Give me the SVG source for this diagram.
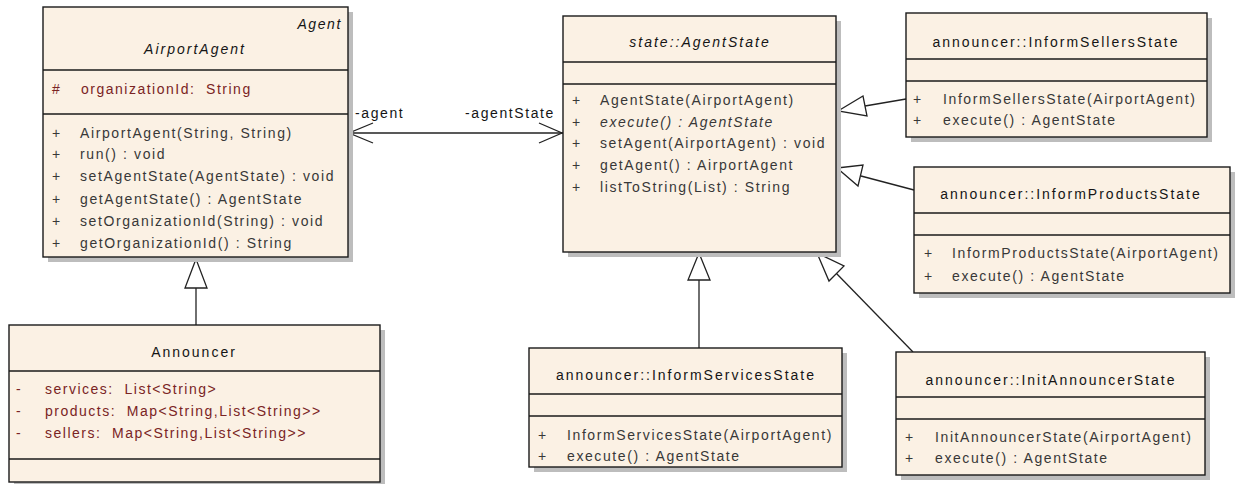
<svg xmlns="http://www.w3.org/2000/svg" width="1235" height="484" viewBox="0 0 1235 484">
<style>
.shadow{fill:#bdbdbd}
.box{fill:#fbf1e4;stroke:#1a1a1a;stroke-width:1.4}
.div{stroke:#1a1a1a;stroke-width:1.4}
text{font-family:"Liberation Sans",Arial,sans-serif;font-size:14px;white-space:pre}
.title{fill:#151515;letter-spacing:2px;text-anchor:middle}
.it{font-style:italic}
.attr{fill:#7a2424;letter-spacing:1.5px}
.meth{fill:#383838;letter-spacing:1.6px}
.vis{fill:#383838}
.avis{fill:#7a2424}
.lbl{fill:#151515;letter-spacing:1.6px}
.line{stroke:#222;stroke-width:1.3;fill:none}
.tri{stroke:#222;stroke-width:1.3;fill:#ffffff}
</style>
<rect width="1235" height="484" fill="#ffffff"/>

<g id="connectors">
  <line class="line" x1="348" y1="133" x2="563" y2="133"/>
  <polyline class="line" points="373,123 349,133 373,143"/>
  <polyline class="line" points="539,123 562,133 539,143"/>
  <text class="lbl" x="355" y="118">-agent</text>
  <text class="lbl" x="555" y="118" text-anchor="end">-agentState</text>

  <line class="line" x1="196" y1="288" x2="196" y2="325"/>
  <polygon class="tri" points="196,259 185,288 207,288"/>

  <line class="line" x1="699" y1="280" x2="699" y2="348"/>
  <polygon class="tri" points="699,253 688,280 710,280"/>

  <line class="line" x1="865" y1="106" x2="906" y2="99"/>
  <polygon class="tri" points="838,111 863,96 867,116"/>

  <line class="line" x1="861" y1="176" x2="914" y2="190"/>
  <polygon class="tri" points="837,168 863,165 858,186"/>

  <line class="line" x1="836" y1="273" x2="913" y2="352"/>
  <polygon class="tri" points="817,253 844,266 829,281"/>
</g>

<g id="AirportAgent">
  <rect class="shadow" x="48" y="12" width="305" height="250"/>
  <rect class="box" x="43" y="7" width="305" height="250"/>
  <line class="div" x1="43" y1="70" x2="348" y2="70"/>
  <line class="div" x1="43" y1="114" x2="348" y2="114"/>
  <text class="lbl it" x="342" y="29" text-anchor="end">Agent</text>
  <text class="title it" x="195" y="54">AirportAgent</text>
  <text class="avis" x="52" y="94">#</text>
  <text class="attr" x="81" y="94">organizationId:  String</text>
  <text class="vis" x="52" y="138">+</text><text class="meth" x="80" y="138">AirportAgent(String, String)</text>
  <text class="vis" x="52" y="159">+</text><text class="meth" x="80" y="159">run() : void</text>
  <text class="vis" x="52" y="181">+</text><text class="meth" x="80" y="181">setAgentState(AgentState) : void</text>
  <text class="vis" x="52" y="204">+</text><text class="meth" x="80" y="204">getAgentState() : AgentState</text>
  <text class="vis" x="52" y="226">+</text><text class="meth" x="80" y="226">setOrganizationId(String) : void</text>
  <text class="vis" x="52" y="248">+</text><text class="meth" x="80" y="248">getOrganizationId() : String</text>
</g>

<g id="Announcer">
  <rect class="shadow" x="14" y="330" width="371" height="157"/>
  <rect class="box" x="9" y="325" width="371" height="157"/>
  <line class="div" x1="9" y1="371" x2="380" y2="371"/>
  <line class="div" x1="9" y1="459" x2="380" y2="459"/>
  <text class="title" x="194" y="357">Announcer</text>
  <text class="avis" x="16" y="394">-</text><text class="attr" x="45" y="394">services:  List&lt;String&gt;</text>
  <text class="avis" x="16" y="416">-</text><text class="attr" x="45" y="416">products:  Map&lt;String,List&lt;String&gt;&gt;</text>
  <text class="avis" x="16" y="438">-</text><text class="attr" x="45" y="438">sellers:  Map&lt;String,List&lt;String&gt;&gt;</text>
</g>

<g id="AgentState">
  <rect class="shadow" x="568" y="21" width="273" height="236"/>
  <rect class="box" x="563" y="16" width="273" height="236"/>
  <line class="div" x1="563" y1="62" x2="836" y2="62"/>
  <line class="div" x1="563" y1="84" x2="836" y2="84"/>
  <text class="title it" x="700" y="47">state::AgentState</text>
  <text class="vis" x="572" y="105">+</text><text class="meth" x="600" y="105">AgentState(AirportAgent)</text>
  <text class="vis" x="572" y="127">+</text><text class="meth it" x="600" y="127">execute() : AgentState</text>
  <text class="vis" x="572" y="148">+</text><text class="meth" x="600" y="148">setAgent(AirportAgent) : void</text>
  <text class="vis" x="572" y="170">+</text><text class="meth" x="600" y="170">getAgent() : AirportAgent</text>
  <text class="vis" x="572" y="192">+</text><text class="meth" x="600" y="192">listToString(List) : String</text>
</g>

<g id="InformSellersState">
  <rect class="shadow" x="911" y="18" width="301" height="124"/>
  <rect class="box" x="906" y="13" width="301" height="124"/>
  <line class="div" x1="906" y1="59" x2="1207" y2="59"/>
  <line class="div" x1="906" y1="81" x2="1207" y2="81"/>
  <text class="title" x="1056" y="47">announcer::InformSellersState</text>
  <text class="vis" x="913" y="104">+</text><text class="meth" x="943" y="104">InformSellersState(AirportAgent)</text>
  <text class="vis" x="913" y="125">+</text><text class="meth" x="943" y="125">execute() : AgentState</text>
</g>

<g id="InformProductsState">
  <rect class="shadow" x="919" y="172" width="316" height="126"/>
  <rect class="box" x="914" y="167" width="316" height="126"/>
  <line class="div" x1="914" y1="213" x2="1230" y2="213"/>
  <line class="div" x1="914" y1="235" x2="1230" y2="235"/>
  <text class="title" x="1071" y="199">announcer::InformProductsState</text>
  <text class="vis" x="924" y="258">+</text><text class="meth" x="952" y="258">InformProductsState(AirportAgent)</text>
  <text class="vis" x="924" y="281">+</text><text class="meth" x="952" y="281">execute() : AgentState</text>
</g>

<g id="InformServicesState">
  <rect class="shadow" x="534" y="353" width="313" height="119"/>
  <rect class="box" x="529" y="348" width="313" height="119"/>
  <line class="div" x1="529" y1="394" x2="842" y2="394"/>
  <line class="div" x1="529" y1="416" x2="842" y2="416"/>
  <text class="title" x="686" y="380">announcer::InformServicesState</text>
  <text class="vis" x="538" y="440">+</text><text class="meth" x="567" y="440">InformServicesState(AirportAgent)</text>
  <text class="vis" x="538" y="461">+</text><text class="meth" x="567" y="461">execute() : AgentState</text>
</g>

<g id="InitAnnouncerState">
  <rect class="shadow" x="901" y="357" width="309" height="123"/>
  <rect class="box" x="896" y="352" width="309" height="123"/>
  <line class="div" x1="896" y1="397" x2="1205" y2="397"/>
  <line class="div" x1="896" y1="419" x2="1205" y2="419"/>
  <text class="title" x="1051" y="385">announcer::InitAnnouncerState</text>
  <text class="vis" x="905" y="442">+</text><text class="meth" x="935" y="442">InitAnnouncerState(AirportAgent)</text>
  <text class="vis" x="905" y="463">+</text><text class="meth" x="935" y="463">execute() : AgentState</text>
</g>
</svg>
